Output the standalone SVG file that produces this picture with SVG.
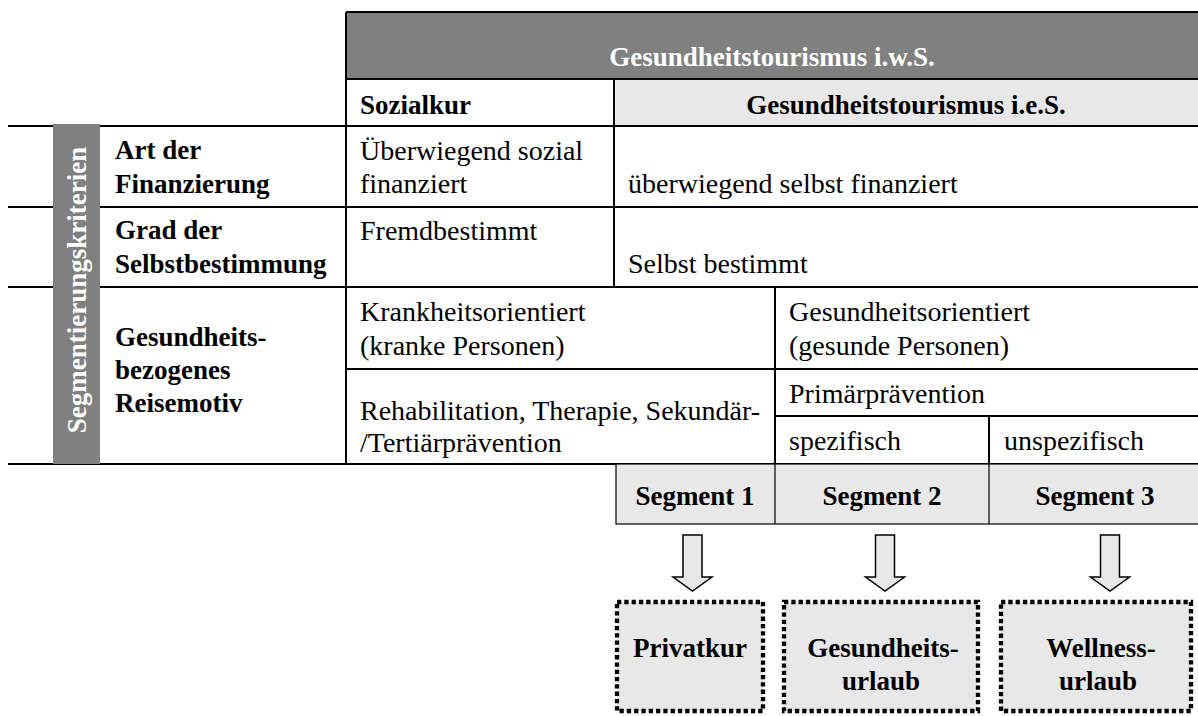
<svg xmlns="http://www.w3.org/2000/svg" width="1198" height="716" viewBox="0 0 1198 716">
  <style>
    text { font-family: "Liberation Serif", "Times New Roman", serif; fill: #000; }
    .r { font-size: 28px; }
    .b { font-size: 27px; font-weight: bold; }
    .w { fill: #fff; }
    .mid { text-anchor: middle; }
    .rule { stroke: #000; stroke-width: 2; fill: none; }
    .thin { stroke: #000; stroke-width: 1.2; }
    .dark { fill: #808080; }
    .light { fill: #e8e8e8; }
    .dotbox { fill: #e8e8e8; stroke: #000; stroke-width: 4.3; stroke-dasharray: 4.3 3; }
    .arrow { fill: #e8e8e8; stroke: #000; stroke-width: 1.5; stroke-linejoin: miter; }
  </style>

  <!-- table backgrounds -->
  <g id="header">
    <rect class="dark" x="346" y="12" width="852" height="67"/>
    <text class="b w mid" x="772" y="66">Gesundheitstourismus i.w.S.</text>
  </g>
  <g id="subheader">
    <rect class="light" x="614" y="79" width="584" height="47"/>
    <text class="b" x="360" y="114">Sozialkur</text>
    <text class="b mid" x="906" y="114">Gesundheitstourismus i.e.S.</text>
  </g>

  <!-- grid lines -->
  <g id="grid">
    <path class="rule" d="M346 12H1198 M346 79H1198 M8 126H1198 M8 207H1198 M8 287H1198 M346 369H1198 M775 416H1198 M8 464H1198"/>
    <path class="rule" d="M346 12V464 M614 79V287 M775 287V464 M989 416V464"/>
  </g>

  <!-- side label bar -->
  <g id="criteria-bar">
    <rect class="dark" x="53" y="124" width="47" height="340"/>
    <text class="b w mid" transform="translate(86 290) rotate(-90)">Segmentierungskriterien</text>
  </g>

  <g id="row-financing">
    <text class="b" x="115" y="159">Art der</text>
    <text class="b" x="115" y="193">Finanzierung</text>
    <text class="r" x="360" y="160">Überwiegend sozial</text>
    <text class="r" x="360" y="193">finanziert</text>
    <text class="r" x="628" y="193">überwiegend selbst finanziert</text>
  </g>

  <g id="row-selfdetermination">
    <text class="b" x="115" y="239">Grad der</text>
    <text class="b" x="115" y="273">Selbstbestimmung</text>
    <text class="r" x="360" y="240">Fremdbestimmt</text>
    <text class="r" x="628" y="273">Selbst bestimmt</text>
  </g>

  <g id="row-motive">
    <text class="b" x="115" y="346">Gesundheits-</text>
    <text class="b" x="115" y="379">bezogenes</text>
    <text class="b" x="115" y="412">Reisemotiv</text>
    <text class="r" x="360" y="321">Krankheitsorientiert</text>
    <text class="r" x="360" y="355">(kranke Personen)</text>
    <text class="r" x="789" y="321">Gesundheitsorientiert</text>
    <text class="r" x="789" y="355">(gesunde Personen)</text>
    <text class="r" x="360" y="420">Rehabilitation, Therapie, Sekundär-</text>
    <text class="r" x="360" y="452">/Tertiärprävention</text>
    <text class="r" x="789" y="403">Primärprävention</text>
    <text class="r" x="789" y="450">spezifisch</text>
    <text class="r" x="1004" y="450">unspezifisch</text>
  </g>

  <!-- segment row -->
  <g id="segments">
    <rect class="light thin" x="616" y="464" width="590" height="60"/>
    <path class="thin" d="M775 464V524 M989 464V524"/>
    <text class="b mid" x="695" y="505">Segment 1</text>
    <text class="b mid" x="882" y="505">Segment 2</text>
    <text class="b mid" x="1095" y="505">Segment 3</text>
  </g>

  <!-- block arrows -->
  <g id="connectors">
    <path class="arrow" d="M683 535H702V577H712L692.5 591L673 577H683Z"/>
    <path class="arrow" d="M875.5 535H894.5V577H904.5L885 591L865.5 577H875.5Z"/>
    <path class="arrow" d="M1100.5 535H1119.5V577H1129.5L1110 591L1090.5 577H1100.5Z"/>
  </g>

  <!-- resulting offers -->
  <g id="privatkur">
    <rect class="dotbox" x="617" y="602" width="146" height="109"/>
    <text class="b mid" x="690" y="657">Privatkur</text>
  </g>
  <g id="gesundheitsurlaub">
    <rect class="dotbox" x="784" y="602" width="194" height="109"/>
    <text class="b mid" x="883" y="657">Gesundheits-</text>
    <text class="b mid" x="881" y="690">urlaub</text>
  </g>
  <g id="wellnessurlaub">
    <rect class="dotbox" x="1001" y="602" width="190" height="109"/>
    <text class="b mid" x="1101" y="657">Wellness-</text>
    <text class="b mid" x="1098" y="690">urlaub</text>
  </g>
</svg>
